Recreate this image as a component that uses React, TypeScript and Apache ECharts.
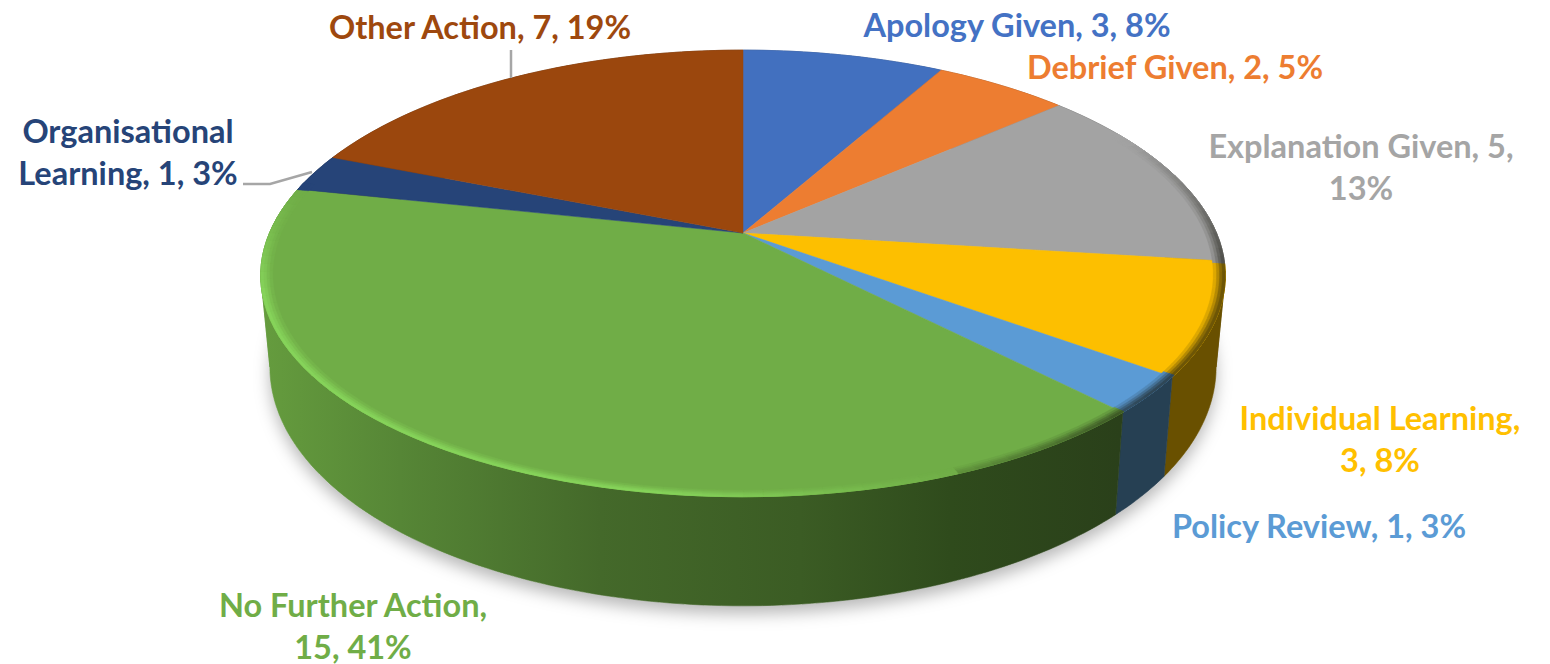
import React, { useEffect, useRef } from "react";
import * as echarts from "echarts";

const categories = ["Apology Given", "Debrief Given", "Explanation Given", "Individual Learning", "Policy Review", "No Further Action", "Organisational Learning", "Other Action"];
const values = [3, 2, 5, 3, 1, 15, 1, 7];
const percents = [8, 5, 13, 8, 3, 41, 3, 19];
const labelBreakAfter = ["", "", "Explanation Given, 5,", "Individual Learning,", "", "No Further Action,", "Organisational", ""];

const topColors = ["#4270bf", "#ed7d31", "#a3a3a3", "#fdbf00", "#5b9bd5", "#70ad47", "#264478", "#9b470d"];
const textColors = ["#4472c4", "#ed7d31", "#a5a5a5", "#ffc000", "#5b9bd5", "#70ad47", "#264478", "#9e480e"];
const wallColors = ["#2c4a80", "#8f4c1e", "#646464", "#695000", "#264053", "", "#172a4a", "#5f2c08"];
const labelAnchors: [number, number][] = [[1017, 24], [1175, 66], [1361, 166], [1380, 438], [1319, 525], [353, 625], [128, 151], [480, 26]];
const leaderLines: number[][][] = [[[511, 50], [511, 78]], [[243, 184], [270, 184], [312, 172]]];

const CX = 743, CY = 233, K = -0.181, KX = -0.19, A = 216, B = 473.5;
const total = values.reduce((s, v) => s + v, 0);
const startOf = (i: number) => (values.slice(0, i).reduce((s, v) => s + v, 0) / total) * Math.PI * 2;

const rel = (t: number): [number, number] => {
  const u = Math.sin(t), v = -Math.cos(t);
  return [(B * u) / (1 + KX * v), (A * v) / (1 + K * v)];
};
const topPt = (t: number, s = 1): number[] => { const [x, y] = rel(t); return [CX + x * s, CY + y * s]; };
const botPt = (t: number): number[] => { const [x, y] = rel(t); return [CX + x * 0.981, CY + 88 + y * 1.08]; };
const rad = (d: number) => (d * Math.PI) / 180;
const arcPts = (f: (t: number) => number[], a: number, b: number) => {
  const n = Math.max(2, Math.ceil(((b - a) * 180) / Math.PI));
  const pts: number[][] = [];
  for (let i = 0; i <= n; i++) pts.push(f(a + ((b - a) * i) / n));
  return pts;
};
const hGrad = (stops: [number, string][]) => ({
  type: "linear", x: 260, y: 0, x2: 1225, y2: 0, global: true,
  colorStops: stops.map(([p, c]) => ({ offset: (p - 260) / 965, color: c })),
});
const greenWall = hGrad([[262, "#659c3e"], [400, "#568636"], [600, "#44692a"], [800, "#3b5c24"], [950, "#2f4b1c"], [1120, "#2a401a"]]);

const sliceAt = (t: number) => {
  for (let i = 0; i < values.length; i++) if (t < startOf(i + 1)) return i;
  return values.length - 1;
};
const hex = (c: string) => [1, 3, 5].map((p) => parseInt(c.slice(p, p + 2), 16));
const mix = (c: string, target: number[], f: number) => {
  const a = hex(c);
  return `rgb(${a.map((x, i) => Math.round(x + (target[i] - x) * f)).join(",")})`;
};
const ramp = (d: number, from: number, to: number) => Math.max(0, Math.min(1, (d - from) / (to - from)));
const LIGHT = [136, 215, 92], DARK = [20, 20, 10];
const rimLayers: [number, number][] = [[0.975, 0.22], [0.982, 0.5], [0.988, 0.8], [0.994, 1]];

const rimColor = (deg: number, strength: number) => {
  const base = topColors[sliceAt(rad(deg))];
  const light = ramp(deg, 158, 188) * (1 - ramp(deg, 255, 282));
  const dark = ramp(deg, 62, 100) * (1 - ramp(deg, 132, 168));
  if (light > 0) return mix(base, LIGHT, light * strength * 0.9);
  return mix(base, DARK, dark * strength * 0.62);
};

export default function App() {
  const ref = useRef<HTMLDivElement>(null);
  useEffect(() => {
    const chart = echarts.init(ref.current!, null, { renderer: "svg" });
    const data = values.map((v, i) => ({ name: categories[i], value: v }));
    chart.setOption({
      animation: false,
      backgroundColor: "#ffffff",
      series: [
        {
          type: "custom", coordinateSystem: "none", silent: true, data: [1],
          renderItem: () => ({
            type: "polygon",
            shape: { points: arcPts(botPt, 0, Math.PI * 2) },
            style: { fill: "#d8d8d8", shadowBlur: 16, shadowColor: "rgba(0,0,0,0.28)", shadowOffsetX: 0, shadowOffsetY: 8 },
          }),
        },
        {
          type: "custom", coordinateSystem: "none", silent: true, data,
          renderItem: (p: any) => {
            const i = p.dataIndex;
            const a = startOf(i), b = startOf(i + 1);
            const cuts = [a, ...[rad(101), rad(259)].filter((c) => c > a && c < b), b];
            const fill = wallColors[i] || greenWall;
            const children = [];
            for (let k = 0; k + 1 < cuts.length; k++) {
              const top = arcPts(topPt, cuts[k], cuts[k + 1]);
              const bot = arcPts(botPt, cuts[k], cuts[k + 1]).reverse();
              children.push({
                type: "polygon",
                shape: { points: [...top, ...bot] },
                style: { fill, stroke: fill, lineWidth: 0.6 },
              });
            }
            return { type: "group", children };
          },
        },
        {
          type: "custom", coordinateSystem: "none", silent: true, data,
          renderItem: (p: any) => {
            const i = p.dataIndex;
            return {
              type: "polygon",
              shape: { points: [[CX, CY], ...arcPts(topPt, startOf(i), startOf(i + 1))] },
              style: { fill: topColors[i], stroke: topColors[i], lineWidth: 0.5 },
            };
          },
        },
        {
          type: "custom", coordinateSystem: "none", silent: true, data: rimLayers.map((_, i) => i),
          renderItem: (p: any) => {
            const [inner, strength] = rimLayers[p.dataIndex];
            const children = [];
            for (let d = 60; d < 284; d += 2) {
              const c = rimColor(d + 1, strength);
              children.push({
                type: "polygon",
                shape: { points: [topPt(rad(d)), topPt(rad(d + 2)), topPt(rad(d + 2), inner), topPt(rad(d), inner)] },
                style: { fill: c, stroke: c, lineWidth: 0.4 },
              });
            }
            return { type: "group", children };
          },
        },
        {
          type: "custom", coordinateSystem: "none", silent: true, data: leaderLines.map((_, i) => i),
          renderItem: (p: any) => ({
            type: "polyline",
            shape: { points: leaderLines[p.dataIndex] },
            style: { fill: "none", stroke: "#a6a6a6", lineWidth: 2.5 },
          }),
        },
        {
          type: "custom", coordinateSystem: "none", data,
          renderItem: (p: any) => {
            const i = p.dataIndex;
            const full = `${categories[i]}, ${values[i]}, ${percents[i]}%`;
            const br = labelBreakAfter[i];
            const text = br ? `${br}\n${full.slice(br.length).trim()}` : full;
            return {
              type: "text",
              style: {
                x: labelAnchors[i][0], y: labelAnchors[i][1], text,
                fill: textColors[i], align: "center", verticalAlign: "middle",
                font: 'bold 32.5px Lato, "Open Sans", sans-serif', lineHeight: 42,
              },
            };
          },
        },
      ],
    });
    return () => chart.dispose();
  }, []);
  return <div ref={ref} style={{ position: "fixed", left: 0, top: 0, width: 1550, height: 664 }} />;
}
